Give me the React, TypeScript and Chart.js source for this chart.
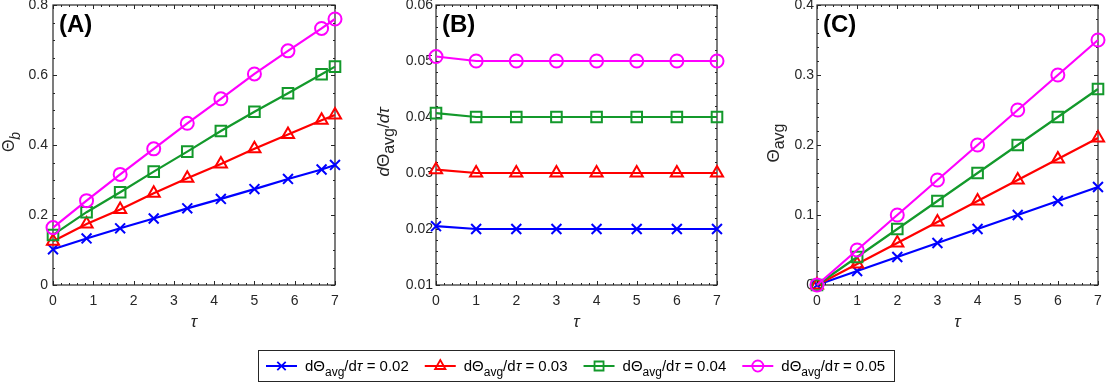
import React, { useEffect, useRef } from 'react';
import { Chart, registerables } from 'chart.js';

Chart.register(...registerables);

// ---------------- data ----------------
const TAU_A = [0, 0.833, 1.667, 2.5, 3.333, 4.167, 5, 5.833, 6.667, 7];
const THETA_B_002 = [0.102, 0.133, 0.162, 0.19, 0.219, 0.246, 0.274, 0.303, 0.33, 0.343];
const THETA_B_003 = [0.125, 0.174, 0.216, 0.262, 0.305, 0.346, 0.389, 0.43, 0.471, 0.486];
const THETA_B_004 = [0.143, 0.208, 0.265, 0.324, 0.381, 0.44, 0.495, 0.548, 0.602, 0.624];
const THETA_B_005 = [0.164, 0.241, 0.316, 0.389, 0.462, 0.532, 0.603, 0.669, 0.733, 0.76];

const TAU_B = [0, 1, 2, 3, 4, 5, 6, 7];
const RATE_002 = [0.0205, 0.02, 0.02, 0.02, 0.02, 0.02, 0.02, 0.02];
const RATE_003 = [0.0306, 0.03, 0.03, 0.03, 0.03, 0.03, 0.03, 0.03];
const RATE_004 = [0.0407, 0.04, 0.04, 0.04, 0.04, 0.04, 0.04, 0.04];
const RATE_005 = [0.0508, 0.05, 0.05, 0.05, 0.05, 0.05, 0.05, 0.05];

const TAU_C = [0, 1, 2, 3, 4, 5, 6, 7];
const THETA_AVG_002 = [0, 0.02, 0.04, 0.06, 0.08, 0.1, 0.12, 0.14];
const THETA_AVG_003 = [0, 0.03, 0.06, 0.09, 0.12, 0.15, 0.18, 0.21];
const THETA_AVG_004 = [0, 0.04, 0.08, 0.12, 0.16, 0.2, 0.24, 0.28];
const THETA_AVG_005 = [0, 0.05, 0.1, 0.15, 0.2, 0.25, 0.3, 0.35];

const LEGEND_VALUES = ['0.02', '0.03', '0.04', '0.05'];

const X_TICKS = [0, 1, 2, 3, 4, 5, 6, 7];
const X_LABELS = ['0', '1', '2', '3', '4', '5', '6', '7'];
const A_Y_TICKS = [0, 0.2, 0.4, 0.6, 0.8];
const A_Y_LABELS = ['0', '0.2', '0.4', '0.6', '0.8'];
const B_Y_TICKS = [0.01, 0.02, 0.03, 0.04, 0.05, 0.06];
const B_Y_LABELS = ['0.01', '0.02', '0.03', '0.04', '0.05', '0.06'];
const C_Y_TICKS = [0, 0.1, 0.2, 0.3, 0.4];
const C_Y_LABELS = ['0', '0.1', '0.2', '0.3', '0.4'];

// ---------------- styles ----------------
const FAMILY = '"Liberation Sans", Arial, Helvetica, sans-serif';
const AXIS_COLOR = '#262626';
const SERIES_COLORS = ['#0000ff', '#ff0000', '#13992b', '#ff00ff'];
const SERIES_POINTS = ['crossRot', 'triangle', 'rect', 'circle'];
const SERIES_RADII = [7, 7, 7.5, 6.5];

type Run = { t: string; size: number; italic?: boolean; bold?: boolean; dy?: number };

const fontOf = (r: Run) =>
  `${r.italic ? 'italic ' : ''}${r.bold ? 'bold ' : ''}${r.size}px ${FAMILY}`;

function drawRuns(ctx: CanvasRenderingContext2D, runs: Run[], x: number, y: number, align: 'center' | 'left') {
  let total = 0;
  for (const r of runs) {
    ctx.font = fontOf(r);
    total += ctx.measureText(r.t).width;
  }
  let cx = align === 'center' ? x - total / 2 : x;
  ctx.textAlign = 'left';
  ctx.textBaseline = 'alphabetic';
  for (const r of runs) {
    ctx.font = fontOf(r);
    ctx.fillText(r.t, cx, y + (r.dy || 0));
    cx += ctx.measureText(r.t).width;
  }
  return total;
}

type Panel = {
  key: string;
  letter: string;
  left: number;
  width: number;
  yAxisW: number;
  padRight: number;
  labelPad: number;
  tau: number[];
  series: number[][];
  yMin: number;
  yMax: number;
  yTicks: number[];
  yLabels: string[];
  xMinor: number;
  yMinor: number;
  yMajor: number;
  yTitle: Run[];
  yTitleX: number;
  yTitleY: number;
};

const PANELS: Panel[] = [
  {
    key: 'A', letter: '(A)', left: 0, width: 343, yAxisW: 53, padRight: 8, labelPad: 5,
    tau: TAU_A, series: [THETA_B_002, THETA_B_003, THETA_B_004, THETA_B_005],
    yMin: 0, yMax: 0.8, yTicks: A_Y_TICKS, yLabels: A_Y_LABELS, xMinor: 0.2, yMinor: 0.05, yMajor: 0.2,
    yTitle: [{ t: 'Θ', size: 16 }, { t: 'b', size: 14, italic: true, dy: 6 }],
    yTitleX: 13.5, yTitleY: 142,
  },
  {
    key: 'B', letter: '(B)', left: 370, width: 355, yAxisW: 66, padRight: 8, labelPad: 3,
    tau: TAU_B, series: [RATE_002, RATE_003, RATE_004, RATE_005],
    yMin: 0.01, yMax: 0.06, yTicks: B_Y_TICKS, yLabels: B_Y_LABELS, xMinor: 0.2, yMinor: 0.002, yMajor: 0.01,
    yTitle: [
      { t: 'd', size: 17, italic: true },
      { t: 'Θ', size: 17 },
      { t: 'avg', size: 16, dy: 5 },
      { t: '/', size: 17 },
      { t: 'd', size: 17, italic: true },
      { t: 'τ', size: 17, italic: true },
    ],
    yTitleX: 18.5, yTitleY: 142,
  },
  {
    key: 'C', letter: '(C)', left: 740, width: 367, yAxisW: 77, padRight: 9, labelPad: 3,
    tau: TAU_C, series: [THETA_AVG_002, THETA_AVG_003, THETA_AVG_004, THETA_AVG_005],
    yMin: 0, yMax: 0.4, yTicks: C_Y_TICKS, yLabels: C_Y_LABELS, xMinor: 0.2, yMinor: 0.02, yMajor: 0.1,
    yTitle: [{ t: 'Θ', size: 17 }, { t: 'avg', size: 16, dy: 5 }],
    yTitleX: 38.5, yTitleY: 143,
  },
];

const CANVAS_H = 340;

function decorPlugin(p: Panel) {
  return {
    id: 'decor' + p.key,
    beforeDatasetsDraw(chart: any) {
      const { ctx, chartArea } = chart;
      const { left, right, top, bottom } = chartArea;
      const xs = chart.scales.x;
      const ys = chart.scales.y;
      ctx.save();
      ctx.strokeStyle = AXIS_COLOR;
      ctx.lineWidth = 1;
      ctx.beginPath();
      const nx = Math.round((7 - 0) / p.xMinor);
      const xRatio = Math.round(1 / p.xMinor);
      for (let i = 0; i <= nx; i++) {
        const px = Math.round(xs.getPixelForValue(i * p.xMinor)) + 0.5;
        const len = i % xRatio === 0 ? 4 : 2;
        ctx.moveTo(px, bottom);
        ctx.lineTo(px, bottom - len);
        ctx.moveTo(px, top);
        ctx.lineTo(px, top + len);
      }
      const ny = Math.round((p.yMax - p.yMin) / p.yMinor);
      const yRatio = Math.round(p.yMajor / p.yMinor);
      for (let i = 0; i <= ny; i++) {
        const py = Math.round(ys.getPixelForValue(p.yMin + i * p.yMinor)) + 0.5;
        const len = i % yRatio === 0 ? 4 : 2;
        ctx.moveTo(left, py);
        ctx.lineTo(left + len, py);
        ctx.moveTo(right, py);
        ctx.lineTo(right - len, py);
      }
      ctx.stroke();
      ctx.lineWidth = 1.2;
      ctx.strokeRect(left, top, right - left, bottom - top);
      ctx.restore();
    },
    afterDraw(chart: any) {
      const { ctx, chartArea } = chart;
      const { left, right } = chartArea;
      ctx.save();
      ctx.fillStyle = '#000000';
      drawRuns(ctx, [{ t: p.letter, size: 24, bold: true }], left + 6, 32, 'left');
      ctx.fillStyle = AXIS_COLOR;
      drawRuns(ctx, [{ t: 'τ', size: 17, italic: true }], (left + right) / 2, 327, 'center');
      ctx.translate(p.yTitleX, p.yTitleY);
      ctx.rotate(-Math.PI / 2);
      drawRuns(ctx, p.yTitle, 0, 0, 'center');
      ctx.restore();
    },
  };
}

function buildConfig(p: Panel): any {
  return {
    type: 'line',
    data: {
      datasets: p.series.map((vals, i) => ({
        label: LEGEND_VALUES[i],
        data: p.tau.map((t, j) => ({ x: t, y: vals[j] })),
        borderColor: SERIES_COLORS[i],
        backgroundColor: 'rgba(0,0,0,0)',
        borderWidth: 2.2,
        pointStyle: SERIES_POINTS[i],
        pointRadius: SERIES_RADII[i],
        pointBorderWidth: 2,
        pointBackgroundColor: 'rgba(0,0,0,0)',
        pointBorderColor: SERIES_COLORS[i],
        tension: 0,
        fill: false,
        clip: false,
        order: 3 - i,
      })),
    },
    options: {
      responsive: false,
      animation: false,
      devicePixelRatio: 1,
      events: [],
      layout: { autoPadding: false, padding: { left: 0, right: p.padRight, top: 5, bottom: 25 } },
      plugins: { legend: { display: false }, tooltip: { enabled: false } },
      scales: {
        x: {
          type: 'linear',
          min: 0,
          max: 7,
          grid: { display: false, drawTicks: false },
          border: { display: false },
          afterBuildTicks: (s: any) => {
            s.ticks = X_TICKS.map((v) => ({ value: v }));
          },
          afterFit: (s: any) => {
            s.height = 30;
            s.paddingLeft = 0;
            s.paddingRight = 0;
          },
          ticks: {
            padding: 8,
            maxRotation: 0,
            autoSkip: false,
            color: AXIS_COLOR,
            font: { size: 14, family: FAMILY },
            callback: (_v: any, i: number) => X_LABELS[i],
          },
        },
        y: {
          type: 'linear',
          min: p.yMin,
          max: p.yMax,
          grid: { display: false, drawTicks: false },
          border: { display: false },
          afterBuildTicks: (s: any) => {
            s.ticks = p.yTicks.map((v) => ({ value: v }));
          },
          afterFit: (s: any) => {
            s.width = p.yAxisW;
            s.paddingTop = 0;
            s.paddingBottom = 0;
          },
          ticks: {
            padding: p.labelPad,
            autoSkip: false,
            color: AXIS_COLOR,
            font: { size: 14, family: FAMILY },
            callback: (_v: any, i: number) => p.yLabels[i],
          },
        },
      },
    },
    plugins: [decorPlugin(p)],
  };
}

function drawMarker(ctx: CanvasRenderingContext2D, style: string, cx: number, cy: number, r: number) {
  ctx.beginPath();
  if (style === 'crossRot') {
    const d = r * Math.SQRT1_2;
    ctx.moveTo(cx - d, cy - d);
    ctx.lineTo(cx + d, cy + d);
    ctx.moveTo(cx + d, cy - d);
    ctx.lineTo(cx - d, cy + d);
  } else if (style === 'triangle') {
    for (let k = 0; k < 3; k++) {
      const a = (k * 2 * Math.PI) / 3;
      const px = cx + Math.sin(a) * r;
      const py = cy - Math.cos(a) * r;
      if (k === 0) ctx.moveTo(px, py);
      else ctx.lineTo(px, py);
    }
    ctx.closePath();
  } else if (style === 'rect') {
    const s = r * Math.SQRT1_2;
    ctx.rect(cx - s, cy - s, 2 * s, 2 * s);
  } else {
    ctx.arc(cx, cy, r, 0, Math.PI * 2);
  }
  ctx.stroke();
}

const legendPlugin = {
  id: 'legendBox',
  afterDraw(chart: any) {
    const ctx: CanvasRenderingContext2D = chart.ctx;
    ctx.save();
    ctx.fillStyle = '#ffffff';
    ctx.fillRect(258, 10, 636, 31);
    ctx.strokeStyle = AXIS_COLOR;
    ctx.lineWidth = 1;
    ctx.strokeRect(258.5, 10.5, 636, 31);
    let x = 266;
    const lineY = 26;
    const baseY = 31;
    chart.data.datasets.forEach((ds: any) => {
      ctx.strokeStyle = ds.borderColor;
      ctx.lineWidth = 2;
      ctx.beginPath();
      ctx.moveTo(x, lineY);
      ctx.lineTo(x + 31, lineY);
      ctx.stroke();
      ctx.lineWidth = 1.8;
      drawMarker(ctx, ds.pointStyle, x + 15.5, lineY, ds.pointRadius * 0.85);
      ctx.fillStyle = '#000000';
      const w = drawRuns(
        ctx,
        [
          { t: 'd', size: 15 },
          { t: 'Θ', size: 15 },
          { t: 'avg', size: 12, dy: 5 },
          { t: '/d', size: 15 },
          { t: 'τ', size: 15, italic: true },
          { t: ' = ' + ds.label, size: 15 },
        ],
        x + 39,
        baseY,
        'left'
      );
      x = x + 39 + w + 16;
    });
    ctx.restore();
  },
};

function buildLegendConfig(): any {
  return {
    type: 'line',
    data: {
      datasets: LEGEND_VALUES.map((v, i) => ({
        label: v,
        data: [],
        borderColor: SERIES_COLORS[i],
        pointStyle: SERIES_POINTS[i],
        pointRadius: SERIES_RADII[i],
      })),
    },
    options: {
      responsive: false,
      animation: false,
      devicePixelRatio: 1,
      events: [],
      plugins: { legend: { display: false }, tooltip: { enabled: false } },
      scales: { x: { display: false }, y: { display: false } },
    },
    plugins: [legendPlugin],
  };
}

export default function App() {
  const panelRefs = useRef<(HTMLCanvasElement | null)[]>([]);
  const legendRef = useRef<HTMLCanvasElement | null>(null);

  useEffect(() => {
    const charts: Chart[] = [];
    PANELS.forEach((p, i) => {
      const c = panelRefs.current[i];
      if (c) charts.push(new Chart(c, buildConfig(p)));
    });
    if (legendRef.current) charts.push(new Chart(legendRef.current, buildLegendConfig()));
    return () => charts.forEach((c) => c.destroy());
  }, []);

  return (
    <div style={{ position: 'absolute', left: 0, top: 0, width: 1107, height: 385, background: '#ffffff' }}>
      {PANELS.map((p, i) => (
        <canvas
          key={p.key}
          ref={(el) => {
            panelRefs.current[i] = el;
          }}
          width={p.width}
          height={CANVAS_H}
          style={{ position: 'absolute', left: p.left, top: 0, width: p.width, height: CANVAS_H }}
        />
      ))}
      <canvas
        ref={legendRef}
        width={1107}
        height={45}
        style={{ position: 'absolute', left: 0, top: 340, width: 1107, height: 45 }}
      />
    </div>
  );
}
